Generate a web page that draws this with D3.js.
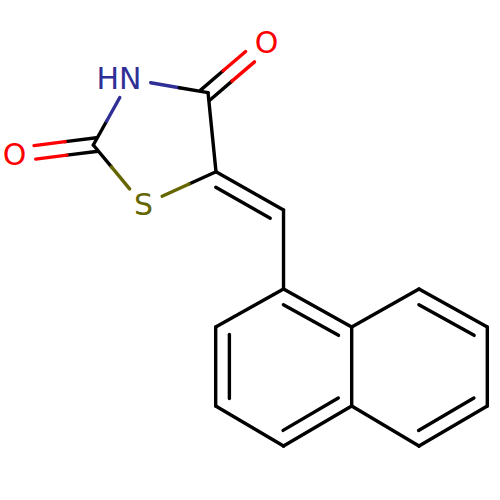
<!DOCTYPE html>
<html>
<head>
<meta charset="utf-8">
<script src="https://cdn.jsdelivr.net/npm/d3@7"></script>
<style>
html, body { margin: 0; padding: 0; background: #fff; }
svg { display: block; }
</style>
</head>
<body>
<div id="chart"></div>
<script>
// atoms, in bond lengths
var atomIds = ["O1", "C2", "N3", "S1", "C4", "C5", "O4", "CH", "Ca", "Cb", "Cc", "Cd", "Ce", "Cf", "Cg", "Ch", "Ci", "Cj"];
var atomX = [0.178, 1.184, 1.650, 1.815, 2.640, 2.741, 3.376, 3.598, 3.598, 2.737, 2.737, 3.598, 4.463, 4.463, 5.317, 6.184, 6.184, 5.317];
var atomY = [1.967, 1.840, 1.005, 2.602, 1.176, 2.179, 0.546, 2.665, 3.668, 4.150, 5.152, 5.660, 5.152, 4.150, 3.668, 4.150, 5.152, 5.660];
var atomLabels = ["O", "", "HN", "S", "", "", "O", "", "", "", "", "", "", "", "", "", "", ""];
var atomElements = ["O", "C", "N", "S", "C", "C", "O", "C", "C", "C", "C", "C", "C", "C", "C", "C", "C", "C"];

// bonds: start, end, order, side of the short inner line (0 = both lines centred)
var bondFrom = ["C2", "C2", "C2", "N3", "C4", "C4", "C5", "C5", "CH", "Ca", "Cb", "Cc", "Cd", "Ce", "Cf", "Cg", "Ch", "Ci", "Cj", "Cf"];
var bondTo = ["O1", "N3", "S1", "C4", "O4", "C5", "S1", "CH", "Ca", "Cb", "Cc", "Cd", "Ce", "Cf", "Cg", "Ch", "Ci", "Cj", "Ce", "Ca"];
var bondOrder = [2, 1, 1, 1, 2, 1, 1, 2, 1, 1, 2, 1, 2, 1, 1, 2, 1, 2, 1, 2];
var bondSide = [0, 0, 0, 0, 0, 0, 0, 1, 0, 0, -1, 0, -1, 0, 0, 1, 0, 1, 0, -1];

var colors = { C: "#000000", O: "#ff0000", N: "#2f2f96", S: "#666600" };

var width = 500, height = 500;
var gapCentred = 6.8, gapInner = 13.7, innerTrim = 7.5, labelTrim = 21, backTrim = 4;

var x = d3.scaleLinear().domain([0, 6.345]).range([0, 500]);
var y = d3.scaleLinear().domain([0, 6.345]).range([0, 500]);

var svg = d3.select("#chart").append("svg")
    .attr("width", width)
    .attr("height", height);

var atoms = {};
atomIds.forEach(function(id, i) {
    atoms[id] = { x: x(atomX[i]), y: y(atomY[i]), label: atomLabels[i], el: atomElements[i] };
});

// one visible stroke, split in two colours at its middle
function addStroke(out, p, q, a, b) {
    var mx = (p[0] + q[0]) / 2, my = (p[1] + q[1]) / 2;
    if (a.el == b.el || (a.el == "C" && b.el == "C")) {
        out.push({ x1: p[0], y1: p[1], x2: q[0], y2: q[1], c: colors[a.el] });
    } else {
        out.push({ x1: p[0], y1: p[1], x2: mx, y2: my, c: colors[a.el] });
        out.push({ x1: mx, y1: my, x2: q[0], y2: q[1], c: colors[b.el] });
    }
}

var segments = [];
bondFrom.forEach(function(id, i) {
    var a = atoms[id], b = atoms[bondTo[i]];
    var len = Math.hypot(b.x - a.x, b.y - a.y);
    var ux = (b.x - a.x) / len, uy = (b.y - a.y) / len;
    var nx = -uy, ny = ux;
    var t0 = a.label ? labelTrim : 0;
    var t1 = b.label ? labelTrim : 0;
    var p = [a.x + ux * t0, a.y + uy * t0];
    var q = [b.x - ux * t1, b.y - uy * t1];

    if (bondOrder[i] == 1) {
        addStroke(segments, p, q, a, b);
    } else if (bondSide[i] == 0) {
        // C=O, two lines either side of the bond
        [-1, 1].forEach(function(s) {
            addStroke(segments,
                [p[0] - ux * backTrim + nx * gapCentred * s, p[1] - uy * backTrim + ny * gapCentred * s],
                [q[0] + nx * gapCentred * s, q[1] + ny * gapCentred * s], a, b);
        });
    } else {
        addStroke(segments, p, q, a, b);
        var s = bondSide[i];
        addStroke(segments,
            [p[0] + ux * innerTrim + nx * gapInner * s, p[1] + uy * innerTrim + ny * gapInner * s],
            [q[0] - ux * innerTrim + nx * gapInner * s, q[1] - uy * innerTrim + ny * gapInner * s], a, b);
    }
});

svg.selectAll("line.bond")
    .data(segments)
    .enter()
    .append("line")
    .attr("class", "bond")
    .attr("x1", function(d) { return d.x1; })
    .attr("y1", function(d) { return d.y1; })
    .attr("x2", function(d) { return d.x2; })
    .attr("y2", function(d) { return d.y2; })
    .attr("stroke", function(d) { return d.c; })
    .attr("stroke-width", 3.4)
    .attr("stroke-linecap", "round");

var labelled = atomIds.filter(function(id) { return atoms[id].label; });

svg.selectAll("text.atom")
    .data(labelled)
    .enter()
    .append("text")
    .attr("class", "atom")
    .attr("x", function(d) { return atoms[d].label == "HN" ? atoms[d].x + 11.5 : atoms[d].x + 0.6; })
    .attr("y", function(d) { return atoms[d].y + 10; })
    .attr("text-anchor", function(d) { return atoms[d].label == "HN" ? "end" : "middle"; })
    .attr("font-family", "'DejaVu Sans'")
    .attr("font-size", 30)
    .attr("fill", function(d) { return colors[atoms[d].el]; })
    .text(function(d) { return atoms[d].label; });
</script>
</body>
</html>
